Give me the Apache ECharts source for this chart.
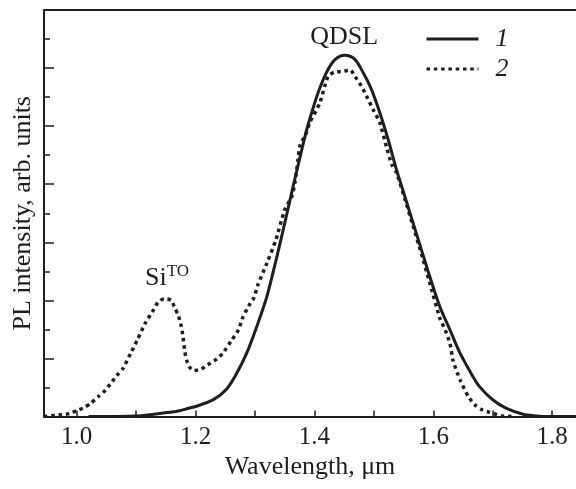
<!DOCTYPE html>
<html>
<head>
<meta charset="utf-8">
<script src="https://cdn.jsdelivr.net/npm/echarts@6/dist/echarts.min.js"></script>
<style>
  html, body { margin: 0; padding: 0; background: #fff; }
  #chart { width: 576px; height: 489px; }
</style>
</head>
<body>
<div id="chart"></div>
<script>
// curve 1 (solid) - wavelength, um / PL intensity, arb. units
var wl1 = [1.02, 1.10, 1.13, 1.163, 1.184, 1.205, 1.23, 1.252, 1.269, 1.286, 1.303, 1.32, 1.336,
  1.35, 1.364, 1.376, 1.387, 1.398, 1.407, 1.42, 1.434, 1.451, 1.468, 1.482, 1.496, 1.51, 1.524,
  1.538, 1.552, 1.566, 1.58, 1.594, 1.611, 1.628, 1.645, 1.662, 1.678, 1.701, 1.723, 1.751, 1.774,
  1.79, 1.84]
var pl1 = [0, 0.01, 0.04, 0.08, 0.13, 0.19, 0.29, 0.47, 0.74, 1.09, 1.55, 2.07, 2.72,
  3.33, 3.96, 4.48, 4.94, 5.32, 5.6, 5.92, 6.14, 6.22, 6.15, 5.92, 5.63, 5.23, 4.77,
  4.25, 3.79, 3.33, 2.87, 2.41, 1.89, 1.49, 1.09, 0.77, 0.51, 0.28, 0.14, 0.04, 0.01,
  0, 0]

// curve 2 (dotted)
var wl2 = [0.945, 0.964, 0.975, 0.988, 1.0, 1.012, 1.024, 1.036, 1.048, 1.058, 1.068, 1.078, 1.091,
  1.103, 1.115, 1.13, 1.137, 1.147, 1.159, 1.165, 1.171, 1.176, 1.179, 1.182, 1.185, 1.189, 1.197,
  1.21, 1.22, 1.233, 1.246, 1.261, 1.272, 1.28, 1.292, 1.298, 1.305, 1.32, 1.335, 1.35, 1.362,
  1.367, 1.372, 1.376, 1.385, 1.392, 1.409, 1.423, 1.434, 1.448, 1.46, 1.468, 1.479, 1.488, 1.499,
  1.51, 1.521, 1.53, 1.538, 1.552, 1.566, 1.58, 1.594, 1.611, 1.62, 1.628, 1.633, 1.645, 1.659,
  1.67, 1.681, 1.695, 1.715, 1.735]
var pl2 = [0, 0.02, 0.03, 0.05, 0.1, 0.15, 0.23, 0.34, 0.45, 0.58, 0.71, 0.83, 1.09,
  1.34, 1.6, 1.85, 1.97, 2.03, 2.0, 1.87, 1.74, 1.55, 1.36, 1.11, 0.97, 0.86, 0.79,
  0.82, 0.89, 0.97, 1.09, 1.32, 1.49, 1.72, 1.95, 2.04, 2.27, 2.64, 3.04, 3.56, 3.79,
  4.02, 4.4, 4.68, 4.85, 5.06, 5.4, 5.86, 5.93, 5.94, 5.97, 5.86, 5.69, 5.51, 5.28,
  5.06, 4.65, 4.34, 4.2, 3.75, 3.28, 2.8, 2.3, 1.69, 1.49, 1.26, 0.97, 0.63, 0.34,
  0.2, 0.12, 0.07, 0.01, 0]

var xTicks = [1.0, 1.1, 1.2, 1.3, 1.4, 1.5, 1.6, 1.7, 1.8]
var xLabels = [1.0, 1.2, 1.4, 1.6, 1.8]

function pairs (xs, ys) {
  return xs.map(function (x, i) { return [x, ys[i]] })
}

var font = 'Liberation Serif'
var ink = '#1e1e1e'

var chart = echarts.init(document.getElementById('chart'))
chart.setOption({
  animation: false,
  grid: {
    left: 44,
    right: 0,
    top: 10,
    bottom: 72.5
  },
  legend: {
    left: 425,
    top: 25,
    padding: 0,
    orient: 'vertical',
    itemWidth: 52,
    itemHeight: 14,
    itemGap: 2,
    itemStyle: { opacity: 0 },
    lineStyle: { width: 3 },
    data: ['1', '2'],
    textStyle: {
      fontFamily: font,
      fontSize: 26,
      fontStyle: 'italic',
      color: ink,
      lineHeight: 28,
      padding: [0, 0, 0, 12]
    }
  },
  xAxis: [
    {
      type: 'value',
      min: 0.945,
      max: 1.84,
      name: 'Wavelength, μm',
      nameLocation: 'middle',
      nameGap: 36,
      nameTextStyle: { fontFamily: font, fontSize: 26, color: ink },
      axisLine: { lineStyle: { color: ink, width: 2 } },
      axisTick: {
        inside: true,
        length: 6,
        customValues: xTicks,
        lineStyle: { color: ink, width: 1.5 }
      },
      axisLabel: {
        customValues: xLabels,
        margin: 8,
        fontFamily: font,
        fontSize: 25,
        color: ink,
        formatter: function (v) { return v.toFixed(1) }
      },
      splitLine: { show: false }
    },
    {
      type: 'value',
      position: 'top',
      min: 0.945,
      max: 1.84,
      axisLine: { show: true, lineStyle: { color: ink, width: 2 } },
      axisTick: { show: false },
      axisLabel: { show: false },
      splitLine: { show: false }
    }
  ],
  yAxis: {
    type: 'value',
    min: 0,
    max: 7,
    interval: 1,
    name: 'PL intensity, arb. units',
    nameLocation: 'middle',
    nameGap: 8,
    nameTextStyle: { fontFamily: font, fontSize: 26, color: ink },
    axisLine: { show: true, lineStyle: { color: ink, width: 2 } },
    axisTick: { inside: true, length: 10, lineStyle: { color: ink, width: 1.5 } },
    minorTick: { show: true, splitNumber: 2, length: 6, lineStyle: { color: ink, width: 1.5 } },
    axisLabel: { show: false },
    splitLine: { show: false },
    minorSplitLine: { show: false }
  },
  series: [
    {
      name: '1',
      type: 'line',
      data: pairs(wl1, pl1),
      smooth: 0.3,
      showSymbol: false,
      symbol: 'none',
      itemStyle: { color: ink },
      lineStyle: { color: ink, width: 3 },
      markPoint: {
        symbol: 'circle',
        symbolSize: 1,
        itemStyle: { color: 'rgba(0,0,0,0)' },
        label: {
          show: true,
          formatter: 'QDSL',
          fontFamily: font,
          fontSize: 26,
          color: ink
        },
        data: [{ coord: [1.45, 6.54] }]
      }
    },
    {
      name: '2',
      type: 'line',
      data: pairs(wl2, pl2),
      smooth: 0.2,
      showSymbol: false,
      symbol: 'none',
      itemStyle: { color: ink },
      lineStyle: { color: ink, width: 3.5, type: [3.5, 3.8] },
      markPoint: {
        symbol: 'circle',
        symbolSize: 1,
        itemStyle: { color: 'rgba(0,0,0,0)' },
        label: {
          show: true,
          formatter: '{a|Si}{b|TO}',
          rich: {
            a: { fontFamily: font, fontSize: 26, color: ink, lineHeight: 30 },
            b: { fontFamily: font, fontSize: 17, color: ink, verticalAlign: 'top', lineHeight: 30 }
          }
        },
        data: [{ coord: [1.152, 2.39] }]
      }
    }
  ]
})
</script>
</body>
</html>
